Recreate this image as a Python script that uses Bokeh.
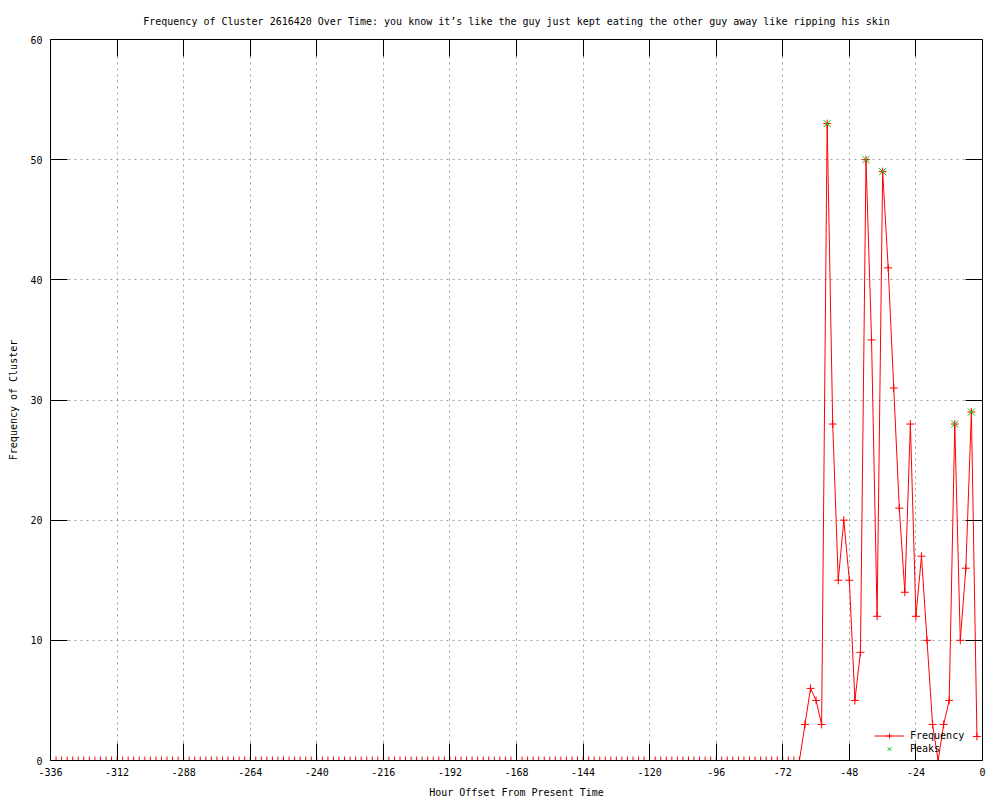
from bokeh.plotting import figure
from bokeh.models import FixedTicker, LinearAxis, Range1d, Legend, LegendItem
from bokeh.embed import file_html
from bokeh.resources import INLINE

# ---- data ----
hours = list(range(-336, 0, 2))
frequency = [
    0, 0, 0, 0, 0, 0, 0, 0, 0, 0, 0, 0, 0, 0, 0, 0, 0,
    0, 0, 0, 0, 0, 0, 0, 0, 0, 0, 0, 0, 0, 0, 0, 0, 0,
    0, 0, 0, 0, 0, 0, 0, 0, 0, 0, 0, 0, 0, 0, 0, 0, 0,
    0, 0, 0, 0, 0, 0, 0, 0, 0, 0, 0, 0, 0, 0, 0, 0, 0,
    0, 0, 0, 0, 0, 0, 0, 0, 0, 0, 0, 0, 0, 0, 0, 0, 0,
    0, 0, 0, 0, 0, 0, 0, 0, 0, 0, 0, 0, 0, 0, 0, 0, 0,
    0, 0, 0, 0, 0, 0, 0, 0, 0, 0, 0, 0, 0, 0, 0, 0, 0,
    0, 0, 0, 0, 0, 0, 0, 0, 0, 0, 0, 0, 0, 0, 0, 0, 0,
    3, 6, 5, 3, 53, 28, 15, 20, 15, 5, 9, 50, 35, 12, 49, 41,
    31, 21, 14, 28, 12, 17, 10, 3, 0, 3, 5, 28, 10, 16, 29, 2,
]
peak_hours = [-56, -42, -36, -10, -4]
peak_values = [53, 50, 49, 28, 29]

x_ticks = [-336, -312, -288, -264, -240, -216, -192, -168, -144, -120, -96, -72, -48, -24, 0]
x_tick_labels = ["-336", "-312", "-288", "-264", "-240", "-216", "-192", "-168",
                 "-144", "-120", "-96", "-72", "-48", "-24", "0"]
y_ticks = [0, 10, 20, 30, 40, 50, 60]
y_tick_labels = ["0", "10", "20", "30", "40", "50", "60"]

title_text = ("Frequency of Cluster 2616420 Over Time: you know it\u2019s like the guy "
              "just kept eating the other guy away like ripping his skin")

FONT = "DejaVu Sans Mono"
FS = "10px"

p = figure(width=1000, height=800, output_backend="svg", toolbar_location=None,
           x_range=Range1d(-336, 0), y_range=Range1d(0, 60),
           title=title_text,
           x_axis_label="Hour Offset From Present Time",
           y_axis_label="Frequency of Cluster",
           min_border_left=50, min_border_right=18,
           min_border_top=39, min_border_bottom=40)

p.background_fill_color = "white"
p.border_fill_color = "white"
p.outline_line_color = "black"
p.outline_line_width = 1

p.title.text_font = FONT
p.title.text_font_size = FS
p.title.text_font_style = "normal"
p.title.align = "center"
p.title.standoff = 25
p.title.text_color = "black"


def style_axis(ax, ticks, labels, show_labels):
    ax.ticker = FixedTicker(ticks=ticks)
    ax.major_tick_in = 17
    ax.major_tick_out = 0
    ax.minor_tick_in = 0
    ax.minor_tick_out = 0
    ax.axis_line_color = "black"
    ax.major_tick_line_color = "black"
    ax.major_tick_line_width = 1
    ax.major_label_text_font = FONT
    ax.major_label_text_font_size = FS
    if show_labels:
        ax.major_label_overrides = {t: l for t, l in zip(ticks, labels)}
        ax.major_label_text_color = "black"
        ax.axis_label_text_font = FONT
        ax.axis_label_text_font_size = FS
        ax.axis_label_text_font_style = "normal"
        ax.axis_label_text_color = "black"
    else:
        ax.major_label_text_color = None
        ax.major_label_standoff = 0


xa = p.xaxis[0]
ya = p.yaxis[0]
style_axis(xa, x_ticks, x_tick_labels, True)
style_axis(ya, y_ticks, y_tick_labels, True)
xa.major_label_standoff = 7
xa.axis_label_standoff = 8
ya.major_label_standoff = 8
ya.axis_label_standoff = 8

# mirrored tick marks on the top and right borders (no labels, no extra space)
top_ax = LinearAxis(fixed_location=60)
right_ax = LinearAxis(fixed_location=0)
style_axis(top_ax, x_ticks, x_tick_labels, False)
style_axis(right_ax, y_ticks, y_tick_labels, False)
p.add_layout(top_ax, "above")
p.add_layout(right_ax, "right")

for g, t in ((p.xgrid, x_ticks), (p.ygrid, y_ticks)):
    g.ticker = FixedTicker(ticks=t)
    g.grid_line_color = "#a0a0a0"
    g.grid_line_dash = "2 4"
    g.grid_line_width = 1

red = "#ff0000"
green = "#00c000"
line_r = p.line(hours, frequency, line_color=red, line_width=1)
cross_r = p.scatter(hours, frequency, marker="cross", size=8, line_color=red, line_width=1)
peak_r = p.scatter(peak_hours, peak_values, marker="x", size=10, line_color=green, line_width=1)

legend = Legend(items=[LegendItem(label="Frequency", renderers=[line_r, cross_r]),
                       LegendItem(label="Peaks", renderers=[peak_r])],
                location=(824, 5))
legend.border_line_color = None
legend.background_fill_alpha = 0
legend.label_text_font = FONT
legend.label_text_font_size = FS
legend.label_text_color = "black"
legend.glyph_width = 30
legend.glyph_height = 13
legend.label_height = 13
legend.spacing = 0
legend.padding = 2
legend.margin = 0
legend.label_standoff = 6
p.add_layout(legend)

open("out.html", "w").write(file_html(p, INLINE))
